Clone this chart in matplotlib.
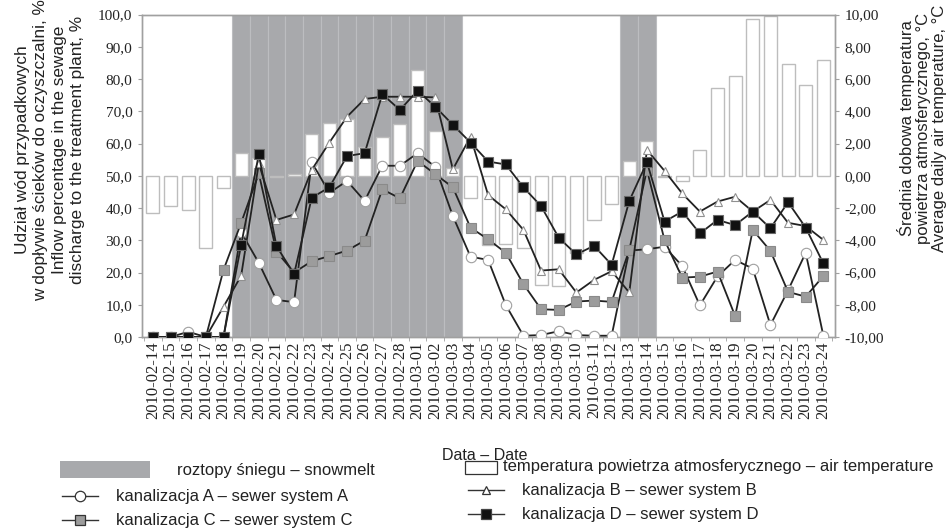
import numpy as np
import matplotlib
matplotlib.use("Agg")
import matplotlib.pyplot as plt
from matplotlib.lines import Line2D
from matplotlib.patches import Rectangle
from matplotlib.ticker import FuncFormatter

# dates (categories)
dates = ["2010-02-14", "2010-02-15", "2010-02-16", "2010-02-17", "2010-02-18",
         "2010-02-19", "2010-02-20", "2010-02-21", "2010-02-22", "2010-02-23",
         "2010-02-24", "2010-02-25", "2010-02-26", "2010-02-27", "2010-02-28",
         "2010-03-01", "2010-03-02", "2010-03-03", "2010-03-04", "2010-03-05",
         "2010-03-06", "2010-03-07", "2010-03-08", "2010-03-09", "2010-03-10",
         "2010-03-11", "2010-03-12", "2010-03-13", "2010-03-14", "2010-03-15",
         "2010-03-16", "2010-03-17", "2010-03-18", "2010-03-19", "2010-03-20",
         "2010-03-21", "2010-03-22", "2010-03-23", "2010-03-24"]

# snowmelt days (1 = snowmelt)
snowmelt = [0, 0, 0, 0, 0, 1, 1, 1, 1, 1, 1, 1, 1, 1, 1, 1, 1, 1, 0, 0,
            0, 0, 0, 0, 0, 0, 0, 1, 1, 0, 0, 0, 0, 0, 0, 0, 0, 0, 0]

# mean daily air temperature, deg C (right axis)
temperature = [-2.3, -1.9, -2.1, -4.5, -0.75, 1.4, 1.1, -0.1, 0.1, 2.6,
               3.25, 3.55, 1.8, 2.4, 3.2, 6.55, 2.75, 0.5, -1.4, -4.3,
               -4.25, -4.5, -6.8, -6.85, -4.8, -2.75, -1.75, 0.9, 2.15, -0.1,
               -0.35, 1.6, 5.45, 6.2, 9.7, 9.9, 6.9, 5.6, 7.2]

# inflow percentage, % (left axis)
sewer_a = [0, 0, 1.6, 0, 0, 32.5, 23.0, 11.5, 10.8, 54.2,
           44.7, 48.4, 42.2, 53.1, 53.1, 57.0, 52.8, 37.5, 24.9, 23.9,
           9.9, 0.4, 0.6, 1.8, 0.6, 0.4, 0.4, 26.8, 27.2, 28.0,
           22.0, 9.8, 18.8, 23.9, 21.2, 3.7, 14.5, 26.1, 0.4]
sewer_b = [0, 0, 0, 0, 9.4, 19.0, 53.8, 36.3, 38.0, 51.8,
           60.3, 68.3, 73.8, 74.5, 74.5, 74.5, 74.3, 52.0, 62.1, 44.0,
           39.6, 33.2, 20.6, 21.0, 13.8, 17.7, 20.4, 13.8, 58.0, 51.5,
           44.5, 38.9, 42.0, 43.5, 38.9, 42.5, 35.4, 34.4, 30.1]
sewer_c = [0, 0, 0, 0, 20.8, 35.4, 50.7, 26.5, 20.0, 23.5,
           25.1, 26.8, 29.9, 45.8, 43.0, 54.6, 50.5, 46.4, 33.9, 30.3,
           26.1, 16.4, 8.6, 8.4, 11.0, 11.3, 10.9, 27.0, 51.8, 30.0,
           18.4, 18.7, 20.3, 6.5, 33.2, 26.7, 14.0, 12.5, 18.9]
sewer_d = [0, 0, 0, 0, 0, 28.6, 56.6, 28.2, 19.5, 43.2,
           46.4, 56.1, 57.0, 75.3, 70.4, 76.4, 71.4, 65.8, 60.3, 54.4,
           53.5, 46.4, 40.6, 30.8, 25.6, 28.3, 22.4, 42.2, 54.2, 35.8,
           38.9, 32.1, 36.3, 34.7, 38.9, 33.7, 41.8, 33.9, 22.8]

W, H = 952, 530
fig = plt.figure(figsize=(W / 100, H / 100), dpi=100)
ax2 = fig.add_axes([142 / W, 1 - 337 / H, (835 - 142) / W, (337 - 14.5) / H])
ax = ax2.twinx()
ax.yaxis.tick_left()
ax.yaxis.set_label_position("left")
ax2.yaxis.tick_right()
ax2.yaxis.set_label_position("right")
ax.patch.set_visible(False)

x = np.arange(len(dates))
serif = "Liberation Serif"
spine_col = "#a0a0a0"
shade_col = "#a8a9ac"
text_col = "#222222"

# snowmelt shading
for i, s in enumerate(snowmelt):
    if s:
        ax2.axvspan(i - 0.5, i + 0.5, facecolor=shade_col, edgecolor="#bcbdc0",
                    linewidth=0.8, zorder=0)

# temperature bars
ax2.bar(x, temperature, width=0.74, color="white", edgecolor="#bdbdbd",
        linewidth=1.0, zorder=1)
ax2.set_ylim(-10, 10)
ax2.set_yticks(np.arange(-10, 11, 2))
ax2.yaxis.set_major_formatter(FuncFormatter(lambda v, p: f"{v:.2f}".replace(".", ",")))

# sewer series
line_kw = dict(color="#222222", linewidth=1.3)
ax.plot(x, sewer_a, marker="o", markersize=7.5, markerfacecolor="white",
        markeredgecolor="#a0a0a0", markeredgewidth=0.8, zorder=3, **line_kw)
ax.plot(x, sewer_c, marker="s", markersize=6.5, markerfacecolor="#9c9c9c",
        markeredgecolor="#8a8a8a", markeredgewidth=0.8, zorder=3, **line_kw)
ax.plot(x, sewer_b, marker="^", markersize=5.5, markerfacecolor="white",
        markeredgecolor="#909090", markeredgewidth=0.8, zorder=4, **line_kw)
ax.plot(x, sewer_d, marker="s", markersize=7, markerfacecolor="#111111",
        markeredgecolor="#6a6a6a", markeredgewidth=0.8, zorder=5, **line_kw)
ax.set_ylim(0, 100)
ax.set_yticks(np.arange(0, 101, 10))
ax.yaxis.set_major_formatter(FuncFormatter(lambda v, p: f"{v:.1f}".replace(".", ",")))

ax2.set_xlim(-0.62, 38.66)
ax2.set_xticks(x)
ax2.set_xticklabels(dates, rotation=90, fontsize=12, family=serif, color=text_col)
ax2.set_xticks(np.arange(-0.5, len(dates), 1), minor=True)
ax2.tick_params(axis="x", which="major", length=0, pad=3)
ax2.tick_params(axis="x", which="minor", length=3, color=spine_col, direction="out")

for a in (ax, ax2):
    for sp in a.spines.values():
        sp.set_color(spine_col)
        sp.set_linewidth(1.0)
    a.tick_params(axis="y", length=3, color=spine_col, labelsize=11, pad=4)
    for lab in a.get_yticklabels():
        lab.set_family(serif)
        lab.set_color(text_col)

# axis titles
sans = ["Liberation Sans", "DejaVu Sans"]
fig.text(50 / W, 1 - 150 / H,
         "Udział wód przypadkowych\nw dopływie ścieków do oczyszczalni, %\n"
         "Inflow percentage in the sewage\ndischarge to the treatment plant, %",
         rotation=90, ha="center", va="center", multialignment="center",
         fontsize=12.4, family=sans, color=text_col, linespacing=1.3)
fig.text(922 / W, 1 - 128 / H,
         "Średnia dobowa temperatura\npowietrza atmosferycznego, °C\n"
         "Average daily air temperature, °C",
         rotation=90, ha="center", va="center", multialignment="center",
         fontsize=12, family=sans, color=text_col, linespacing=1.1)
fig.text(485 / W, 1 - 455 / H, "Data – Date", ha="center", va="center",
         fontsize=11.5, family=sans, color=text_col)

# legend (drawn by hand to follow the two-column layout)
leg_fs = 12


def px(xp, yp):
    return xp / W, 1 - yp / H


fig.add_artist(Rectangle(px(60, 478), 90 / W, 17 / H, transform=fig.transFigure,
                         facecolor=shade_col, edgecolor="none"))
fig.text(*px(177, 470), "roztopy śniegu – snowmelt", va="center", fontsize=leg_fs,
         family=sans, color=text_col)
fig.add_artist(Rectangle(px(465, 474), 32 / W, 13 / H, transform=fig.transFigure,
                         facecolor="white", edgecolor="#333333", linewidth=0.9))
fig.text(*px(503, 467), "temperatura powietrza atmosferycznego – air temperature",
         va="center", fontsize=leg_fs, family=sans, color=text_col)

legend_rows = [
    (62, 496, "o", "white", "#333333", 7.5, "kanalizacja A – sewer system A"),
    (62, 520, "s", "#9c9c9c", "#333333", 6.5, "kanalizacja C – sewer system C"),
    (468, 490, "^", "white", "#333333", 6, "kanalizacja B – sewer system B"),
    (468, 514, "s", "#111111", "#444444", 7, "kanalizacja D – sewer system D"),
]
for xp, yp, mk, fc, ec, ms, label in legend_rows:
    x0, y0 = px(xp, yp)
    x1, _ = px(xp + 36, yp)
    fig.add_artist(Line2D([x0, x1], [y0, y0], transform=fig.transFigure,
                          color="#333333", linewidth=1.0))
    fig.add_artist(Line2D([(x0 + x1) / 2], [y0], transform=fig.transFigure,
                          marker=mk, markersize=ms, markerfacecolor=fc,
                          markeredgecolor=ec, markeredgewidth=0.9, linestyle="none"))
    fig.text(x1 + 18 / W, y0, label, va="center", fontsize=leg_fs, family=sans,
             color=text_col)

fig.savefig("out.png", dpi=100)
